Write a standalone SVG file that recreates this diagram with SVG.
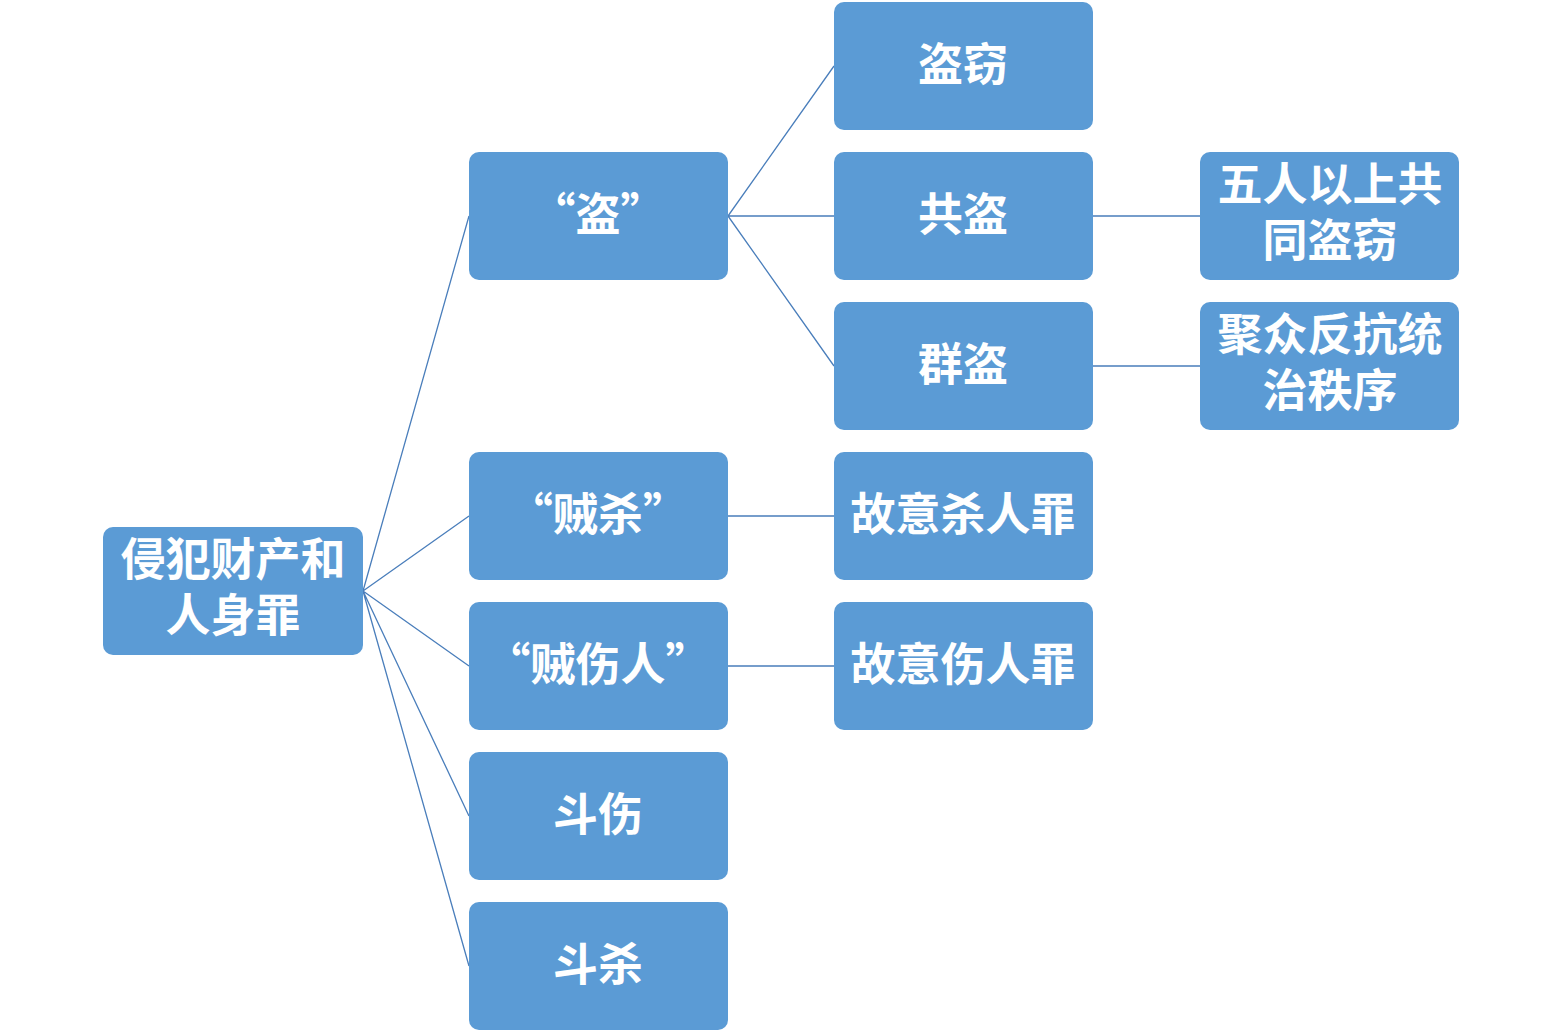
<svg xmlns="http://www.w3.org/2000/svg" width="1562" height="1033" viewBox="0 0 1562 1033">
<style>
.n{fill:#5B9BD5}
.t{fill:#fff;font-family:"Noto Sans CJK SC","Liberation Sans",sans-serif;font-weight:bold;font-size:45px;text-anchor:middle}
.c{stroke:#4A7EBB;stroke-width:1.3;fill:none}
</style>
<rect width="1562" height="1033" fill="#fff"/>
<g id="connectors">
<path class="c" d="M363,591L469,216M363,591L469,516M363,591L469,666M363,591L469,816M363,591L469,966M728,216L834,66M728,216L834,216M728,216L834,366M728,516L834,516M728,666L834,666M1093,216L1200,216M1093,366L1200,366"/>
</g>
<g id="root"><rect class="n" x="103" y="527" width="260" height="128" rx="10"/><text class="t" x="233" y="576">侵犯财产和</text><text class="t" x="233" y="632">人身罪</text></g>
<g id="dao"><rect class="n" x="469" y="152" width="259" height="128" rx="10"/><text class="t" x="598" y="231">“盗”</text></g>
<g id="zeisha"><rect class="n" x="469" y="452" width="259" height="128" rx="10"/><text class="t" x="598" y="531">“贼杀”</text></g>
<g id="zeishangren"><rect class="n" x="469" y="602" width="259" height="128" rx="10"/><text class="t" x="598" y="681">“贼伤人”</text></g>
<g id="doushang"><rect class="n" x="469" y="752" width="259" height="128" rx="10"/><text class="t" x="598" y="831">斗伤</text></g>
<g id="dousha"><rect class="n" x="469" y="902" width="259" height="128" rx="10"/><text class="t" x="598" y="981">斗杀</text></g>
<g id="daoqie"><rect class="n" x="834" y="2" width="259" height="128" rx="10"/><text class="t" x="963" y="81">盗窃</text></g>
<g id="gongdao"><rect class="n" x="834" y="152" width="259" height="128" rx="10"/><text class="t" x="963" y="231">共盗</text></g>
<g id="qundao"><rect class="n" x="834" y="302" width="259" height="128" rx="10"/><text class="t" x="963" y="381">群盗</text></g>
<g id="sharen"><rect class="n" x="834" y="452" width="259" height="128" rx="10"/><text class="t" x="963" y="531">故意杀人罪</text></g>
<g id="shangren"><rect class="n" x="834" y="602" width="259" height="128" rx="10"/><text class="t" x="963" y="681">故意伤人罪</text></g>
<g id="wuren"><rect class="n" x="1200" y="152" width="259" height="128" rx="10"/><text class="t" x="1330" y="201">五人以上共</text><text class="t" x="1330" y="257">同盗窃</text></g>
<g id="juzhong"><rect class="n" x="1200" y="302" width="259" height="128" rx="10"/><text class="t" x="1330" y="351">聚众反抗统</text><text class="t" x="1330" y="407">治秩序</text></g>
</svg>
